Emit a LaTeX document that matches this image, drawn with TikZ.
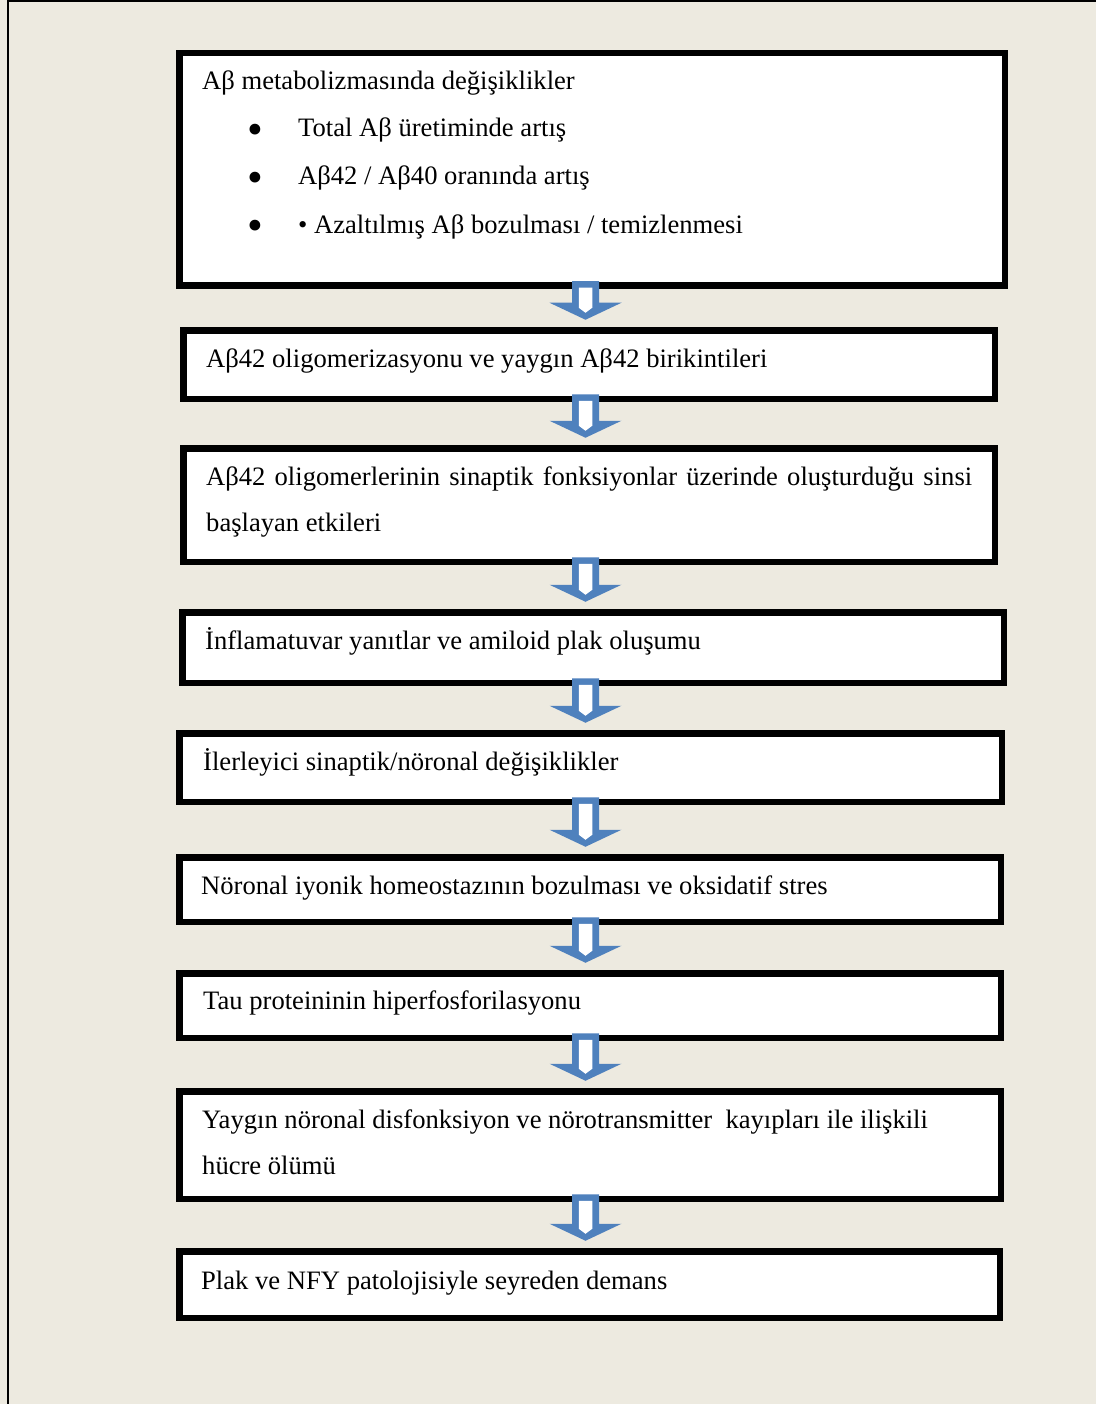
\documentclass[tikz,border=0pt]{standalone}
\usepackage{fontspec}
\setmainfont{Liberation Serif}
\usetikzlibrary{calc}
\definecolor{bgbeige}{RGB}{237,234,224}
\definecolor{arrowblue}{RGB}{79,129,189}
\tikzset{
  flowbox/.style={draw=black, line width=6.5pt, fill=white, inner sep=0pt, rectangle},
  boxtext/.style={anchor=base west, inner sep=0pt, font=\fontsize{26.6}{46}\selectfont},
  bulletmark/.style={anchor=base, inner sep=0pt, font=\fontsize{45}{46}\selectfont},
}
\newcommand{\flowarrow}[2]{%
  \coordinate (t#1) at (#1.south -| axis);
  \coordinate (p#1) at (#2.north -| axis);
  \coordinate (t) at ([yshift=7.75pt]t#1);
  \coordinate (p) at ([yshift=7.25pt]p#1);
  \fill[arrowblue] ([xshift=-13.5pt]t) -- ([xshift=13.5pt]t) -- ([xshift=13.5pt,yshift=17pt]p)
     -- ([xshift=36pt,yshift=17pt]p) -- (p) -- ([xshift=-36pt,yshift=17pt]p)
     -- ([xshift=-13.5pt,yshift=17pt]p) -- cycle;
  \fill[white] ([xshift=-6.75pt,yshift=-6.5pt]t) -- ([xshift=6.75pt,yshift=-6.5pt]t)
     -- ([xshift=6.75pt,yshift=12pt]p) -- ([yshift=7pt]p) -- ([xshift=-6.75pt,yshift=12pt]p) -- cycle;
}
\begin{document}
\begin{tikzpicture}[x=1pt,y=-1pt]
\useasboundingbox (0,0) rectangle (1096,1404);
\fill[bgbeige] (0,0) rectangle (1096,1404);
\draw[line width=2pt] (8,1404) -- (8,1) -- (1096,1);
\coordinate (axis) at (585.5,0);

% boxes
\node[flowbox, minimum width=825.5pt, minimum height=232.5pt] (b1) at (592,169.5) {};
\node[flowbox, minimum width=811.5pt, minimum height=68.5pt] (b2) at (589,364.5) {};
\node[flowbox, minimum width=811.5pt, minimum height=113.5pt] (b3) at (589,505) {};
\node[flowbox, minimum width=821.5pt, minimum height=70.5pt] (b4) at (593,647.5) {};
\node[flowbox, minimum width=822.5pt, minimum height=68.5pt] (b5) at (590.5,767.5) {};
\node[flowbox, minimum width=821.5pt, minimum height=64.5pt] (b6) at (590,889.5) {};
\node[flowbox, minimum width=821.5pt, minimum height=64.5pt] (b7) at (590,1005.5) {};
\node[flowbox, minimum width=821.5pt, minimum height=107.5pt] (b8) at (590,1145) {};
\node[flowbox, minimum width=820.5pt, minimum height=66.5pt] (b9) at (589.5,1284.5) {};

% texts
\node[boxtext] (t1a) at (202,90) {Aβ metabolizmasında değişiklikler};
\node[bulletmark] (u1) at (255,144.8) {•};
\node[boxtext] (t1b) at (298,137) {Total Aβ üretiminde artış};
\node[bulletmark] (u2) at (255,192.3) {•};
\node[boxtext] (t1c) at (298,185) {Aβ42 / Aβ40 oranında artış};
\node[bulletmark] (u3) at (255,240.8) {•};
\node[boxtext] (t1d) at (298,234) {• Azaltılmış Aβ bozulması / temizlenmesi};

\node[boxtext] (t2) at (206,367) {Aβ42 oligomerizasyonu ve yaygın Aβ42 birikintileri};
\node[boxtext] (t3a) at (206,485) {\makebox[766pt][s]{Aβ42 oligomerlerinin sinaptik fonksiyonlar üzerinde oluşturduğu sinsi}};
\node[boxtext] (t3b) at (206,531) {başlayan etkileri};
\node[boxtext] (t4) at (205,649) {İnflamatuvar yanıtlar ve amiloid plak oluşumu};
\node[boxtext] (t5) at (203,770) {İlerleyici sinaptik/nöronal değişiklikler};
\node[boxtext] (t6) at (201,894) {Nöronal iyonik homeostazının bozulması ve oksidatif stres};
\node[boxtext] (t7) at (203,1009) {Tau proteininin hiperfosforilasyonu};
\node[boxtext] (t8a) at (202,1128) {Yaygın nöronal disfonksiyon ve nörotransmitter~ kayıpları ile ilişkili};
\node[boxtext] (t8b) at (202,1174) {hücre ölümü};
\node[boxtext] (t9) at (201,1289) {Plak ve NFY patolojisiyle seyreden demans};

% arrows
\flowarrow{b1}{b2}
\flowarrow{b2}{b3}
\flowarrow{b3}{b4}
\flowarrow{b4}{b5}
\flowarrow{b5}{b6}
\flowarrow{b6}{b7}
\flowarrow{b7}{b8}
\flowarrow{b8}{b9}
\end{tikzpicture}
\end{document}
